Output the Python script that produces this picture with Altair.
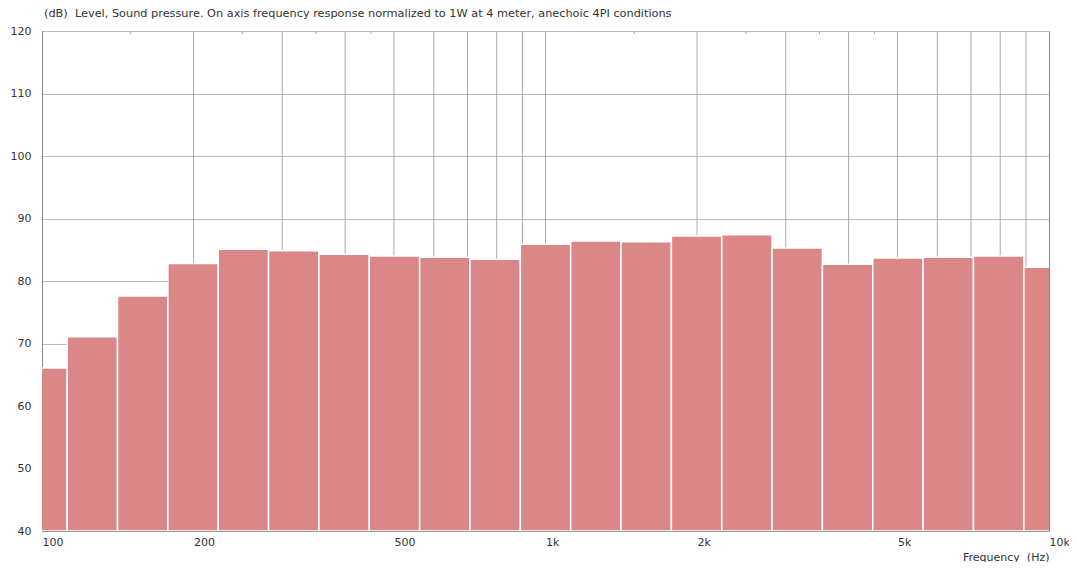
import altair as alt
import numpy as np
import pandas as pd

# Third-octave band centre frequencies (Hz)
bands = [100, 125, 160, 200, 250, 315, 400, 500, 630, 800, 1000,
         1250, 1600, 2000, 2500, 3150, 4000, 5000, 6300, 8000, 10000]
# Sound pressure level (dB)
levels = [66.1, 71.1, 77.6, 82.8, 85.1, 84.85, 84.3, 84.0, 83.8, 83.5, 85.9,
          86.4, 86.3, 87.2, 87.4, 85.3, 82.7, 83.7, 83.8, 84.0, 82.2]

grid_freqs = [200, 300, 400, 500, 600, 700, 800, 900, 1000,
              2000, 3000, 4000, 5000, 6000, 7000, 8000, 9000]
minor_ticks = [150, 250, 350, 450, 1500, 2500, 3500, 4500]
x_label_values = [100, 200, 500, 1000, 2000, 5000, 10000]
y_values = [40, 50, 60, 70, 80, 90, 100, 110, 120]

title_text = "(dB)\u00a0 Level, Sound pressure. On axis frequency response normalized to 1W at 4 meter, anechoic 4PI conditions"

# band edges from the third-octave band number
n = np.round(10 * np.log10(np.array(bands, dtype=float)))
df = pd.DataFrame({
    "band": bands,
    "lo": 10 ** ((n - 0.5) / 10),
    "hi": 10 ** ((n + 0.5) / 10),
    "level": levels,
})

FONT = "DejaVu Sans"
xscale = alt.Scale(type="log", domain=[100, 10000], nice=False)
yscale = alt.Scale(domain=[40, 120], zero=False, nice=False)

x_axis = alt.Axis(
    values=x_label_values, grid=False, ticks=False, domain=True,
    domainColor="#999999",
    labelAlign="left", labelPadding=5, labelFlush=False,
    labelExpr="datum.value >= 1000 ? (datum.value / 1000) + 'k' : datum.value",
    title="Frequency\u00a0 (Hz)", titleAnchor="end", titleAlign="right",
    titleBaseline="top", titleY=20, titleFontWeight="normal",
)

grid = alt.Chart(pd.DataFrame({"f": grid_freqs})).mark_rule(
    color="#aaaaaa", strokeWidth=1
).encode(x=alt.X("f:Q", scale=xscale, axis=x_axis))

minor = alt.Chart(pd.DataFrame({"f": minor_ticks})).mark_rule(
    color="#aaaaaa", strokeWidth=1
).encode(x=alt.X("f:Q", scale=xscale, axis=x_axis), y=alt.value(0), y2=alt.value(3))

bars = alt.Chart(df).mark_bar(
    color="#DB8787", stroke="white", strokeWidth=1.5, clip=True
).encode(
    x=alt.X("lo:Q", scale=xscale, axis=x_axis),
    x2="hi:Q",
    y=alt.Y("level:Q", scale=yscale, axis=alt.Axis(
        values=y_values, grid=True, gridColor="#bbbbbb", ticks=False,
        domainColor="#888888", labelPadding=11, title=None,
    )),
    y2=alt.datum(40),
)

chart = alt.layer(grid, minor, bars).properties(
    width=1007, height=500,
    title=alt.TitleParams(title_text, anchor="start", frame="group", dx=2,
                          offset=6, fontSize=11.3, font=FONT,
                          fontWeight="normal", color="#333333"),
    autosize=alt.AutoSizeParams(type="none"),
    padding={"left": 34, "top": 23, "right": 20, "bottom": 31},
).configure_axis(
    labelFont=FONT, labelFontSize=11, labelColor="#333333",
    titleFont=FONT, titleFontSize=11, titleColor="#333333",
).configure_view(stroke="#888888", strokeWidth=1)

chart.save("out.html", embed_options={"renderer": "svg", "actions": False})
